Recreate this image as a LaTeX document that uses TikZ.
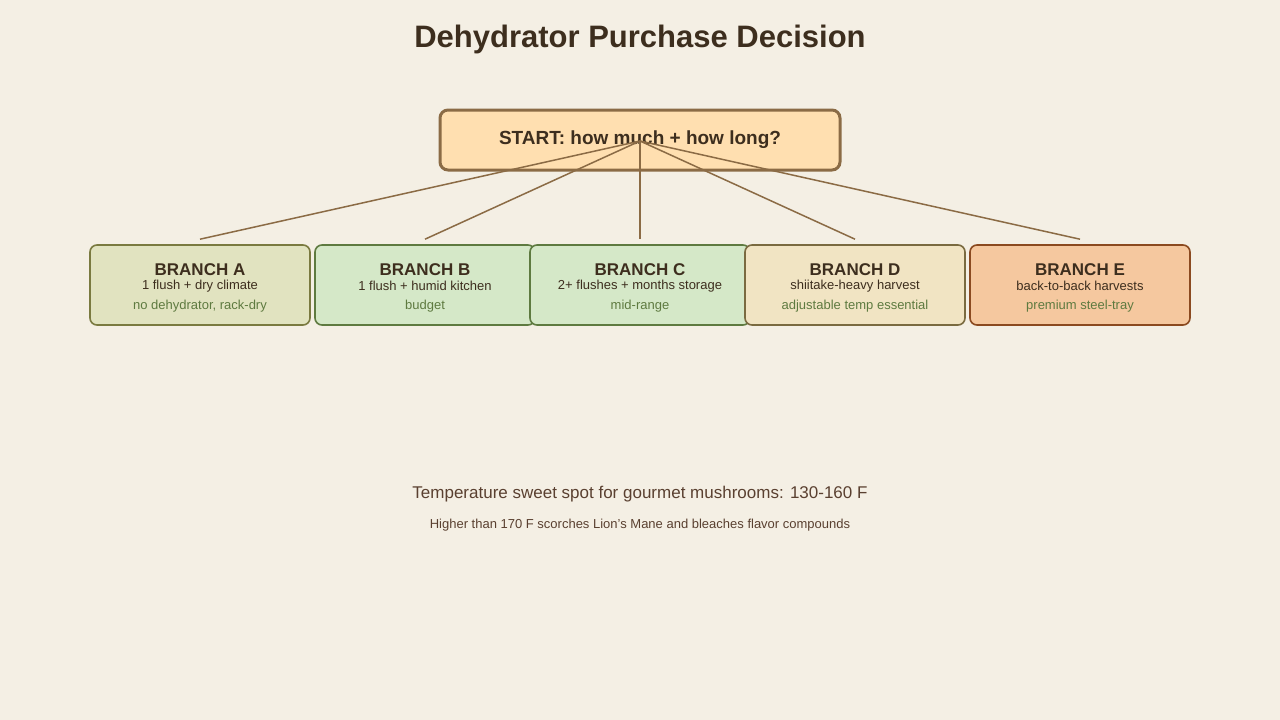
\documentclass[tikz,border=0pt]{standalone}
\usepackage{fontspec}
\setmainfont{Liberation Sans}
\definecolor{bg}{HTML}{F4EFE4}
\definecolor{dk}{HTML}{3D2E1E}
\definecolor{gr}{HTML}{5E7A40}
\definecolor{lk}{HTML}{8B6B45}
\definecolor{bt}{HTML}{5A4030}
\definecolor{sf}{HTML}{FFDFB0}
\definecolor{aF}{HTML}{E1E3C0}\definecolor{aD}{HTML}{7A7A40}
\definecolor{bF}{HTML}{D5E8C8}
\definecolor{dF}{HTML}{F1E4C3}\definecolor{dD}{HTML}{7A6A40}
\definecolor{eF}{HTML}{F5C89F}\definecolor{eD}{HTML}{8B4A20}
\begin{document}
\begin{tikzpicture}[x=1pt,y=-1pt,
  br/.style={draw=#1,line width=1.6pt,rounded corners=7pt,minimum width=220pt,minimum height=80pt,inner sep=0pt},
  conn/.style={draw=lk,line width=1.5pt},
  ttl/.style={font=\fontsize{17}{20}\selectfont\bfseries,text=dk},
  l1/.style={font=\fontsize{13}{16}\selectfont,text=dk},
  l2/.style={font=\fontsize{13}{16}\selectfont,text=gr}]
\fill[bg] (0,0) rectangle (1280,720);
\useasboundingbox (0,0) rectangle (1280,720);
\node[font=\fontsize{31}{36}\selectfont\bfseries,text=dk] (title) at (640,39) {Dehydrator Purchase Decision};
\node[draw=lk,fill=sf,line width=3pt,rounded corners=8pt,minimum width=400pt,minimum height=60pt,font=\fontsize{19}{22}\selectfont\bfseries,text=dk] (start) at (640,140) {START: how much + how long?};
\coordinate (hub) at (640,141);
\node[br=aD,fill=aF] (A) at (200,285) {};
\node[br=gr,fill=bF] (B) at (425,285) {};
\node[br=gr,fill=bF] (C) at (640,285) {};
\node[br=dD,fill=dF] (D) at (855,285) {};
\node[br=eD,fill=eF] (E) at (1080,285) {};
\foreach \n/\t/\a/\b in {A/BRANCH A/1 flush + dry climate/{no dehydrator, rack-dry},B/BRANCH B/1 flush + humid kitchen/budget,C/BRANCH C/2+ flushes + months storage/mid-range,D/BRANCH D/shiitake-heavy harvest/adjustable temp essential,E/BRANCH E/back-to-back harvests/premium steel-tray}{
  \node[ttl] (\n t) at ([yshift=-25pt]\n.north) {\t};
  \node[l1] (\n a) at ([yshift=-42pt]\n.north) {\a};
  \node[l2] (\n b) at ([yshift=-62pt]\n.north) {\b};
  \coordinate (\n c) at ([yshift=5pt]\n.north);
  \draw[conn] (hub) -- (\n c);
}
\node[font=\fontsize{17}{20}\selectfont,text=bt] (n1) at (640,494) {Temperature sweet spot for gourmet mushrooms: 130-160 F};
\node[font=\fontsize{13}{16}\selectfont,text=bt] (n2) at (640,525) {Higher than 170 F scorches Lion's Mane and bleaches flavor compounds};
\end{tikzpicture}
\end{document}
